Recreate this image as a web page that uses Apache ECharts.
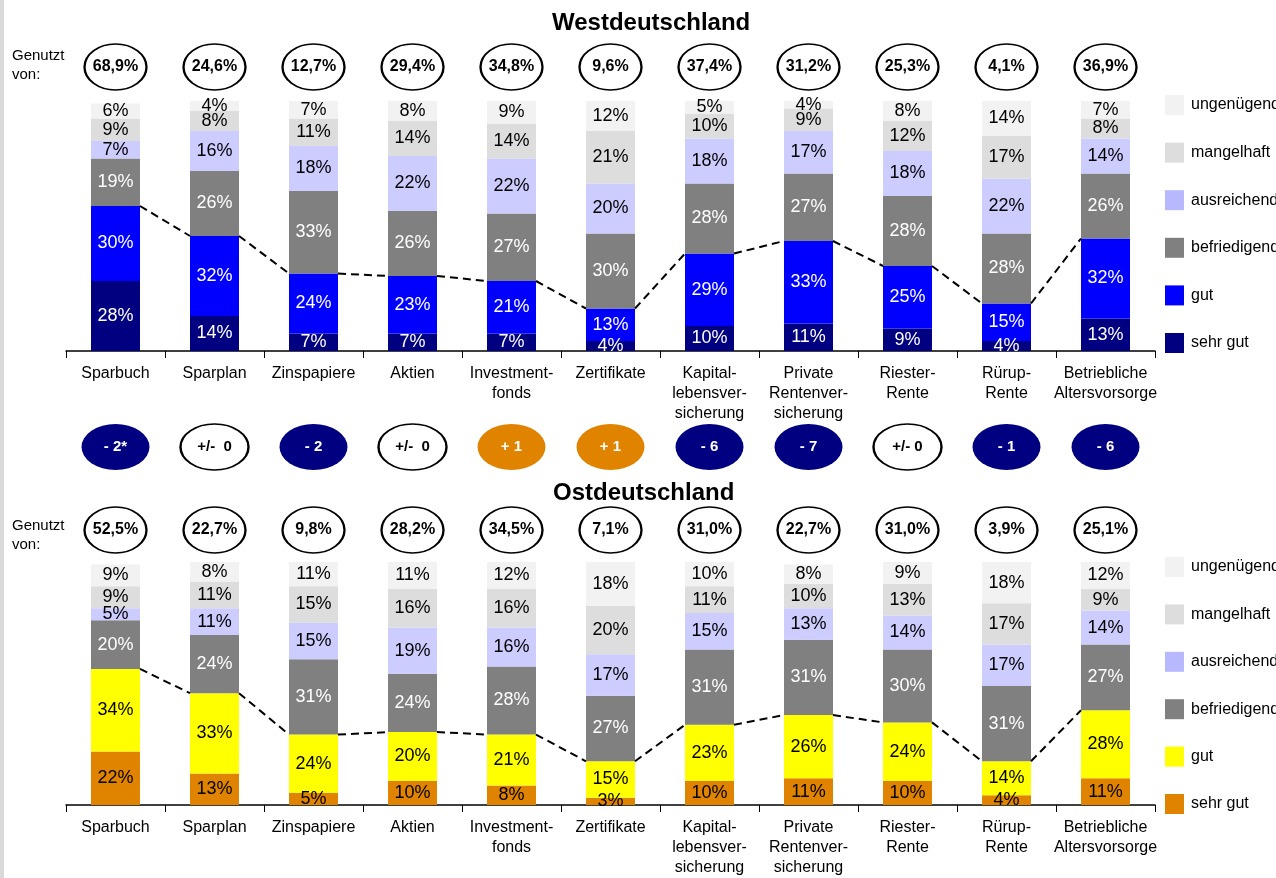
<!DOCTYPE html>
<html>
<head>
<meta charset="utf-8">
<script src="https://cdn.jsdelivr.net/npm/echarts@6/dist/echarts.min.js"></script>
<style>html,body{margin:0;padding:0;background:#fff;}#c{width:1276px;height:878px;}</style>
</head>
<body>
<div id="c"></div>
<script>
const categories = ['Sparbuch','Sparplan','Zinspapiere','Aktien','Investment-\nfonds','Zertifikate','Kapital-\nlebensver-\nsicherung','Private\nRentenver-\nsicherung','Riester-\nRente','Rürup-\nRente','Betriebliche\nAltersvorsorge'];
const ratings = ['sehr gut','gut','befriedigend','ausreichend','mangelhaft','ungenügend'];

const westSehrGut      = [28,14,7,7,7,4,10,11,9,4,13];
const westGut          = [30,32,24,23,21,13,29,33,25,15,32];
const westBefriedigend = [19,26,33,26,27,30,28,27,28,28,26];
const westAusreichend  = [7,16,18,22,22,20,18,17,18,22,14];
const westMangelhaft   = [9,8,11,14,14,21,10,9,12,17,8];
const westUngenuegend  = [6,4,7,8,9,12,5,4,8,14,7];

const eastSehrGut      = [22,13,5,10,8,3,10,11,10,4,11];
const eastGut          = [34,33,24,20,21,15,23,26,24,14,28];
const eastBefriedigend = [20,24,31,24,28,27,31,31,30,31,27];
const eastAusreichend  = [5,11,15,19,16,17,15,13,14,17,14];
const eastMangelhaft   = [9,11,15,16,16,20,11,10,13,17,9];
const eastUngenuegend  = [9,8,11,11,12,18,10,8,9,18,12];

const westGenutzt = ['68,9%','24,6%','12,7%','29,4%','34,8%','9,6%','37,4%','31,2%','25,3%','4,1%','36,9%'];
const eastGenutzt = ['52,5%','22,7%','9,8%','28,2%','34,5%','7,1%','31,0%','22,7%','31,0%','3,9%','25,1%'];
const diffValues = [-2,0,-2,0,1,1,-6,-7,0,-1,-6];
const diffLabels = ['- 2*','+/-  0','- 2','+/-  0','+ 1','+ 1','- 6','- 7','+/- 0','- 1','- 6'];

const FONT = 'Liberation Sans, Arial, sans-serif';
const westColors = ['#000080','#0000FF','#808080','#CCCCFF','#DDDDDD','#F2F2F2'];
const westLabelColors = ['#fff','#fff','#fff','#000','#000','#000'];
const eastColors = ['#E08400','#FFFF00','#808080','#CCCCFF','#DDDDDD','#F2F2F2'];
const eastLabelColors = ['#000','#000','#fff','#000','#000','#000'];
const legendColorsWest = ['#000080','#0000FF','#808080','#B8B8FF','#DDDDDD','#F2F2F2'];
const legendColorsEast = ['#E08400','#FFFF00','#808080','#B8B8FF','#DDDDDD','#F2F2F2'];
const BAR_W = 49;

const westData = [westSehrGut, westGut, westBefriedigend, westAusreichend, westMangelhaft, westUngenuegend];
const eastData = [eastSehrGut, eastGut, eastBefriedigend, eastAusreichend, eastMangelhaft, eastUngenuegend];

function barSeries(data, colors, labelColors, gi, stack) {
  return data.map((arr, k) => ({
    type: 'bar', name: ratings[k], stack: stack, xAxisIndex: gi, yAxisIndex: gi,
    barWidth: BAR_W, data: arr, animation: false,
    itemStyle: { color: colors[k] },
    label: { show: true, position: 'inside', formatter: '{c}%', color: labelColors[k], fontSize: 18, fontFamily: FONT }
  }));
}

function lineSeries(sg, g, gi) {
  const tops = sg.map((v, i) => v + g[i]);
  const data = [];
  for (let i = 0; i < tops.length - 1; i++) data.push([i, tops[i], tops[i + 1]]);
  return {
    type: 'custom', xAxisIndex: gi, yAxisIndex: gi, data: data, animation: false, z: 5,
    encode: { x: 0, y: 1 },
    renderItem: function (params, api) {
      const i = api.value(0);
      const p1 = api.coord([i, api.value(1)]);
      const p2 = api.coord([i + 1, api.value(2)]);
      const h = BAR_W / 2;
      return { type: 'line', shape: { x1: p1[0] + h, y1: p1[1], x2: p2[0] - h, y2: p2[1] },
        style: { stroke: '#000', lineWidth: 2, lineDash: [8, 5] } };
    }
  };
}

function ellipseSeries(labels, gi, fills, textColors, borders, size, fs) {
  return {
    type: 'scatter', xAxisIndex: gi, yAxisIndex: gi, animation: false,
    symbol: 'circle', symbolSize: size, emphasis: { disabled: true },
    data: labels.map((t, i) => ({
      value: [i, 0.5],
      itemStyle: { color: fills[i], opacity: 1, borderColor: borders[i] ? '#000' : fills[i], borderWidth: borders[i] ? 2 : 0 },
      label: { show: true, position: 'inside', formatter: t, color: textColors[i], fontSize: fs, fontWeight: 'bold', fontFamily: FONT }
    }))
  };
}

const diffFill = diffValues.map(v => v < 0 ? '#000080' : (v > 0 ? '#E08400' : '#fff'));
const diffText = diffValues.map(v => v === 0 ? '#000' : '#fff');
const diffBorder = diffValues.map(v => v === 0);

const mainXAxis = (gi) => ({
  type: 'category', gridIndex: gi, data: categories,
  axisLine: { lineStyle: { color: '#000', width: 1.5 } },
  axisTick: { show: true, length: 7, lineStyle: { color: '#000' } },
  axisLabel: { interval: 0, color: '#000', fontSize: 16, lineHeight: 20, margin: 13, fontFamily: FONT }
});
const hiddenXAxis = (gi) => ({ type: 'category', gridIndex: gi, data: categories, show: false });

const gridPos = { left: 66, right: 121 };
const option = {
  backgroundColor: '#fff',
  textStyle: { fontFamily: FONT },
  graphic: [{ type: 'rect', left: 0, top: 0, shape: { width: 4, height: 878 }, style: { fill: '#dadada' } }],
  title: [
    { text: 'Westdeutschland', left: 547, top: 6, textStyle: { fontSize: 24, fontWeight: 'bold', color: '#000', fontFamily: FONT } },
    { text: 'Ostdeutschland', left: 548, top: 476, textStyle: { fontSize: 24, fontWeight: 'bold', color: '#000', fontFamily: FONT } },
    { text: 'Genutzt\nvon:', left: 12, top: 46, padding: 0, textStyle: { fontSize: 15, fontWeight: 'normal', lineHeight: 19, color: '#000', fontFamily: FONT } },
    { text: 'Genutzt\nvon:', left: 12, top: 516, padding: 0, textStyle: { fontSize: 15, fontWeight: 'normal', lineHeight: 19, color: '#000', fontFamily: FONT } }
  ],
  legend: [
    { orient: 'vertical', left: 1165, top: 95, itemWidth: 19, itemHeight: 20, itemGap: 27.6, icon: 'rect', selectedMode: false, padding: 0,
      textStyle: { fontSize: 16, color: '#000', fontFamily: FONT, padding: [0, 0, 0, 2] },
      data: ratings.map((r, k) => ({ name: r, itemStyle: { color: legendColorsWest[k] } })).reverse() },
    { orient: 'vertical', left: 1165, top: 557, itemWidth: 19, itemHeight: 20, itemGap: 27.4, icon: 'rect', selectedMode: false, padding: 0,
      textStyle: { fontSize: 16, color: '#000', fontFamily: FONT, padding: [0, 0, 0, 2] },
      data: ratings.map((r, k) => ({ name: r, itemStyle: { color: legendColorsEast[k] } })).reverse() }
  ],
  grid: [
    Object.assign({ top: 101, height: 250 }, gridPos),
    Object.assign({ top: 44, height: 46 }, gridPos),
    Object.assign({ top: 424, height: 46 }, gridPos),
    Object.assign({ top: 507, height: 46 }, gridPos),
    Object.assign({ top: 562, height: 250 }, gridPos)
  ],
  xAxis: [mainXAxis(0), hiddenXAxis(1), hiddenXAxis(2), hiddenXAxis(3), mainXAxis(4)],
  yAxis: [0, 1, 2, 3, 4].map(gi => ({ type: 'value', gridIndex: gi, min: 0, max: (gi === 0 || gi === 4) ? 100 : 1, show: false })),
  series: [].concat(
    barSeries(westData, westColors, westLabelColors, 0, 'w'),
    [lineSeries(westSehrGut, westGut, 0)],
    barSeries(eastData, eastColors, eastLabelColors, 4, 'e'),
    [lineSeries(eastSehrGut, eastGut, 4)],
    [ellipseSeries(westGenutzt, 1, westGenutzt.map(() => '#fff'), westGenutzt.map(() => '#000'), westGenutzt.map(() => true), [62, 46], 16)],
    [ellipseSeries(diffLabels, 2, diffFill, diffText, diffBorder, [68, 46], 15)],
    [ellipseSeries(eastGenutzt, 3, eastGenutzt.map(() => '#fff'), eastGenutzt.map(() => '#000'), eastGenutzt.map(() => true), [62, 46], 16)]
  )
};
const chart = echarts.init(document.getElementById('c'), null, { renderer: 'canvas' });
chart.setOption(option);
</script>
</body>
</html>
